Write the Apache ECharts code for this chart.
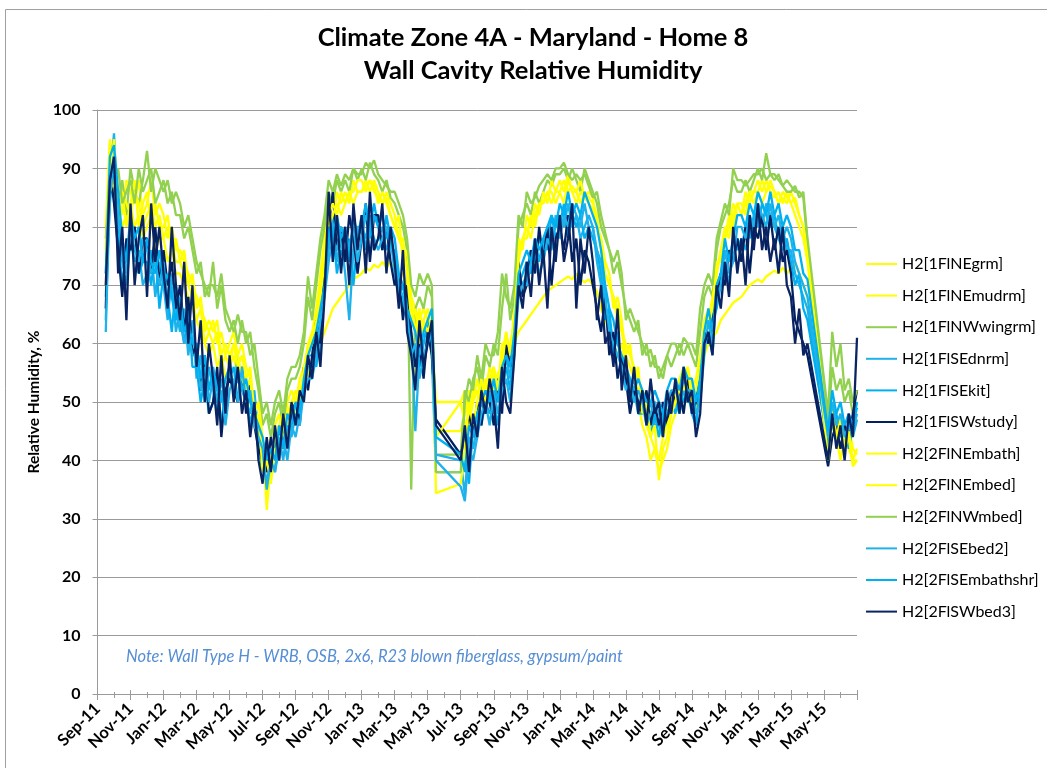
<!DOCTYPE html>
<html><head><meta charset="utf-8">
<script src="https://cdn.jsdelivr.net/npm/echarts@6/dist/echarts.min.js"></script>
<style>html,body{margin:0;padding:0;background:#fff}#c{width:1047px;height:768px}</style>
</head><body><div id="c"></div>
<script>
// x = months since 1-Sep-2011; one reading every quarter month starting mid-Sep-2011
const firstMonth = 0.5;
const stepMonth = 0.25;
const tickLabels = ['Sep-11','Nov-11','Jan-12','Mar-12','May-12','Jul-12','Sep-12','Nov-12','Jan-13','Mar-13','May-13','Jul-13','Sep-13','Nov-13','Jan-14','Mar-14','May-14','Jul-14','Sep-14','Nov-14','Jan-15','Mar-15','May-15'];
const seriesNames = ['H2[1FlNEgrm]','H2[1FlNEmudrm]','H2[1FlNWwingrm]','H2[1FlSEdnrm]','H2[1FlSEkit]','H2[1FlSWstudy]','H2[2FlNEmbath]','H2[2FlNEmbed]','H2[2FlNWmbed]','H2[2FlSEbed2]','H2[2FlSEmbathshr]','H2[2FlSWbed3]'];
const _ = null;

const rh1FlNEgrm = [76,94,
 88,84,80,82, 84,80,82,78, 80,82,76,78, 78,74,76,72, 72,70,68,66, 64,62,60,58, 60,56,58,54, 56,58,54,56, 52,50,46,44, 40,34,38,42, 44,42,46,48,
 48,50,52,55, 57,59,60,62, 64,66,67,68, 69,70,71,71.5, 72,73,72.5,73.5, 73,74,73,74, 73,72,72,70, 68,66,64,66, 64,62,50,_, _,_,_,_, 50,52,46,50, 52,50,53,54,
 52,55,56,57, 58,60,62,63, 64,65,66,67, 68,69,69.5,70, 70.5,71,71.5,71, 72,71,70.5,71, 70,69,66,64, 62,60,58,60, 56,54,52,50, 46,44,40,42, 38,40,42,46, 48,50,52,50,
 50,48,54,58, 60,61,62,64, 65,66,67,67.5, 68,69,70,70.5, 71,70.5,71.5,72, 72.5,72,73,72, 73,74,72,70, 68,_,_,_, _,42,46,44, 40,44,42,40, 40];

const rh1FlNEmudrm = [80,95,
 90,86,82,88, 86,84,88,82, 84,88,82,84, 82,78,80,76, 76,74,72,70, 68,66,64,62, 64,60,62,58, 60,62,58,60, 56,54,50,46, 42,38,44,46, 48,44,50,52,
 50,54,56,60, 62,66,72,78, 84,80,86,84, 86,84,88,86, 86,88,86,88, 86,84,86,84, 82,78,76,74, 66,64,62,64, 66,62,45,_, _,_,_,_, 45,48,52,50, 54,50,52,56,
 54,50,58,62, 58,66,76,78, 80,78,82,84, 84,86,84,86, 86,88,86,87, 86,84,86,85, 84,82,76,72, 70,68,66,62, 60,58,56,54, 52,50,48,46, 44,46,48,50, 52,54,56,54,
 54,50,56,64, 66,64,72,76, 80,78,82,84, 84,82,86,84, 86,88,86,87, 86,84,86,85, 84,82,80,78, 74,_,_,_, _,42,50,46, 48,44,46,42, 41];

const rh1FlNWwingrm = [78,88,
 86,84,88,82, 90,86,84,88, 93,86,90,88, 86,88,84,86, 84,80,82,78, 74,72,70,68, 74,66,70,64, 62,64,60,64, 60,62,56,52, 46,48,44,48, 50,46,52,54,
 54,56,60,68, 64,70,76,80, 86,84,88,86, 88,86,90,88, 90,88,91,89, 88,86,88,85, 84,82,80,76, 35,66,68,66, 70,68,41,_, _,_,_,_, 41,52,50,54, 56,52,58,56,
 60,58,66,72, 64,68,80,82, 84,82,86,84, 86,88,87,89, 89,90,88,90, 88,86,90,88, 86,84,80,78, 76,72,74,70, 66,64,62,64, 58,60,56,58, 54,56,58,56, 58,60,58,60,
 58,56,62,68, 70,68,76,80, 82,84,88,86, 86,88,86,88, 90,88,92.6,89, 88,89,87,88, 87,86,86,85, 77,_,_,_, _,46,56,52, 54,50,52,48, 50];

const rh1FlSEdnrm = [64,88,
 96,80,74,70, 78,74,76,70, 72,76,68,74, 70,64,72,66, 62,66,58,64, 54,58,50,56, 52,48,54,50, 56,52,58,52, 50,48,52,44, 40,36,42,38, 42,44,40,46,
 44,48,52,56, 56,60,58,70, 76,82,74,78, 72,64,76,80, 80,78,82,76, 78,80,76,78, 72,68,70,66, 62,45,58,56, 62,60,41,_, _,_,_,_, 40,34,44,42, 46,50,48,52,
 48,52,50,58, 54,62,72,70, 72,76,74,78, 76,80,78,80, 82,80,84,80, 82,78,80,82, 80,74,70,66, 64,60,62,56, 56,52,54,50, 50,48,50,46, 46,44,48,50, 50,48,52,50,
 50,46,52,60, 62,58,70,72, 74,70,78,76, 78,76,80,78, 82,80,84,82, 80,78,80,76, 76,72,70,68, 66,_,_,_, _,42,48,44, 46,42,47,45, 48];

const rh1FlSEkit = [68,84,
 92,78,70,76, 76,80,72,74, 74,70,76,66, 72,68,62,70, 64,60,66,56, 56,50,54,48, 50,54,46,52, 54,56,50,54, 52,46,50,42, 38,42,37,44, 40,46,43,48,
 46,50,54,58, 58,56,62,72, 78,80,72,76, 74,78,70,78, 82,76,80,84, 80,76,82,78, 74,70,66,68, 60,58,56,60, 64,58,38,_, _,_,_,_, 38,40,36,46, 48,46,50,48,
 50,46,54,56, 52,60,70,72, 74,72,78,74, 78,76,82,78, 80,84,78,82, 80,82,78,80, 78,76,72,64, 66,58,62,54, 54,50,52,48, 48,50,44,48, 44,48,46,50, 48,52,50,52,
 48,46,54,62, 60,64,66,70, 72,76,74,78, 76,80,78,82, 80,84,82,80, 82,78,76,78, 74,70,72,66, 64,_,_,_, _,43,46,48, 44,46,42,46, 50];

const rh1FlSWstudy = [66,90,
 84,76,68,78, 76,80,72,78, 78,72,80,70, 76,70,74,66, 70,62,68,58, 60,52,58,48, 50,56,44,52, 54,52,50,56, 48,54,46,42, 40,38,44,40, 46,42,44,48,
 50,46,56,52, 58,64,60,74, 80,86,76,80, 74,82,78,72, 78,84,74,82, 82,76,80,74, 70,72,64,70, 62,56,60,54, 62,58,47,_, _,_,_,_, 41,44,48,44, 50,46,52,50,
 46,54,48,60, 56,62,74,68, 70,76,72,80, 74,80,70,78, 80,76,82,74, 78,70,76,74, 70,66,62,68, 58,62,54,58, 54,48,52,50, 48,52,46,50, 46,50,46,52, 50,52,48,54,
 48,50,56,62, 60,64,68,72, 70,76,74,78, 74,80,72,80, 78,82,76,82, 76,80,74,76, 72,64,62,60, 58,_,_,_, _,39,44,46, 42,46,44,48, 52];

const rh2FlNEmbath = [70,90,
 95,84,86,80, 84,88,80,84, 86,80,84,80, 80,82,76,78, 74,76,70,72, 66,68,62,64, 62,64,58,60, 58,60,56,58, 54,56,48,50, 44,31.5,40,44, 46,48,44,50,
 52,50,56,58, 60,64,70,76, 82,84,82,86, 84,86,86,88, 88,86,88,87, 84,86,84,82, 80,82,74,76, 68,62,66,62, 64,66,34.4,_, _,_,_,_, 36,42,50,46, 50,54,50,54,
 56,52,60,60, 60,64,78,76, 82,80,84,82, 86,84,88,86, 88,86,89,86, 86,88,85,86, 85,80,78,74, 72,66,68,64, 58,60,54,56, 48,50,44,46, 36.6,42,44,48, 50,52,54,56,
 52,54,58,62, 64,66,74,74, 78,80,84,82, 82,84,86,86, 88,86,88,86, 85,86,84,86, 84,85,82,80, 76,_,_,_, _,40,48,44, 46,42,44,39, 40];

const rh2FlNEmbed = [74,92,
 90,82,86,84, 82,86,84,80, 82,84,80,82, 78,80,78,74, 74,72,70,68, 64,66,60,62, 60,62,56,58, 56,60,58,54, 52,54,46,48, 38,40,36,42, 42,46,48,50,
 50,52,54,58, 62,62,68,74, 80,82,84,82, 84,86,84,86, 86,87,88,86, 85,84,85,82, 80,78,78,72, 64,66,60,64, 62,64,44,_, _,_,_,_, 50,46,48,52, 52,50,54,52,
 56,52,56,62, 58,64,74,78, 78,82,80,84, 84,86,86,84, 86,84,88,86, 84,86,85,84, 83,80,78,72, 70,68,64,62, 58,56,54,52, 50,46,44,42, 40,44,46,48, 50,54,52,56,
 50,52,56,64, 64,68,72,76, 78,82,80,84, 82,86,84,86, 86,84,86,88, 86,84,85,84, 86,84,82,80, 75,_,_,_, _,44,50,44, 47,42,45,40, 42];

const rh2FlNWmbed = [72,86,
 88,90,84,86, 88,84,90,86, 88,90,84,86, 88,84,86,82, 82,78,80,76, 72,74,68,70, 70,68,72,66, 64,62,65,62, 62,58,60,54, 48,50,46,50, 52,48,54,56,
 56,58,62,71.5, 66,72,78,82, 88,86,89,87, 89,88,90,89, 89,91,90,91.4, 89,88,87,86, 86,84,82,78, 70,68,72,70, 72,70,38,_, _,_,_,_, 38,50,54,52, 58,54,60,58,
 58,62,72,68, 66,70,82,80, 86,84,85,87, 88,89,88,90, 90,91,89,88, 89,88,89,87, 85,86,82,79, 76,74,76,72, 64,66,64,62, 60,58,59,56, 56,54,58,60, 60,58,61,60,
 60,58,66,70, 72,70,78,81, 84,82,90,88, 88,87,88,89, 89,90,88,89, 89,88,87,86, 86,87,85,86, 78,_,_,_, _,48,62,56, 60,52,54,50, 52];

const rh2FlSEbed2 = [62,86,
 90,82,76,72, 80,76,74,78, 76,72,74,70, 74,66,70,62, 66,60,62,58, 58,52,56,50, 54,50,52,46, 52,54,50,56, 50,52,46,44, 42,35,40,38, 44,40,46,44,
 48,46,52,54, 54,58,64,68, 74,78,76,80, 78,76,80,74, 78,82,80,78, 76,78,80,76, 76,70,68,64, 58,60,54,58, 60,62,40,_, _,_,_,_, 35.5,33,42,40, 44,48,50,46,
 52,48,52,54, 50,58,68,70, 70,74,76,72, 74,78,76,82, 78,82,80,84, 82,80,84,80, 80,76,74,68, 62,60,58,56, 52,54,50,52, 50,46,48,50, 48,46,50,52, 52,50,54,52,
 52,48,50,58, 64,60,68,70, 76,72,74,80, 80,78,82,80, 84,82,80,84, 80,82,78,80, 78,74,72,70, 68,_,_,_, _,44,50,46, 48,44,46,44, 47];

const rh2FlSEmbathshr = [72,92,
 94,86,78,74, 82,78,80,74, 78,74,72,76, 70,72,68,64, 68,62,64,60, 60,54,58,52, 56,52,50,54, 56,52,54,52, 54,50,48,46, 44,40,42,40, 46,42,48,46,
 50,48,54,58, 60,62,66,70, 80,78,82,78, 80,74,82,78, 80,84,78,82, 80,82,78,80, 78,72,70,66, 64,62,58,62, 64,66,44,_, _,_,_,_, 41,38,46,44, 48,50,52,50,
 54,50,56,58, 56,62,72,74, 76,74,78,76, 78,80,82,80, 84,82,86,82, 84,82,86,84, 82,80,76,70, 66,64,60,58, 56,54,52,54, 52,50,50,52, 50,48,52,54, 54,52,56,54,
 54,50,54,62, 66,62,70,72, 78,74,78,82, 82,80,84,82, 86,84,82,86, 82,84,80,82, 80,76,76,72, 71,_,_,_, _,45,52,48, 50,46,48,46, 49];

const rh2FlSWbed3 = [70,88,
 92,72,80,64, 84,70,78,82, 68,84,74,80, 72,66,80,70, 64,74,60,70, 56,64,50,60, 54,46,58,48, 58,50,56,48, 52,44,50,40, 36,44,38,46, 40,48,42,50,
 46,52,50,58, 54,62,56,68, 86,74,82,72, 80,70,84,76, 82,72,86,76, 78,84,72,80, 74,66,76,62, 58,52,64,56, 60,64,46,_, _,_,_,_, 40,46,38,48, 44,52,48,54,
 50,42,56,50, 48,58,70,66, 74,68,78,70, 76,66,80,74, 82,74,78,84, 66,78,72,80, 74,64,70,60, 62,56,66,52, 58,50,56,48, 52,46,54,48, 50,44,52,48, 54,48,56,50,
 52,44,48,60, 62,58,70,66, 74,68,80,72, 78,70,82,76, 84,76,80,74, 78,72,80,70, 68,60,66,58, 60,_,_,_, _,40,48,42, 46,40,48,44, 61];

const seriesValues = [rh1FlNEgrm, rh1FlNEmudrm, rh1FlNWwingrm, rh1FlSEdnrm, rh1FlSEkit, rh1FlSWstudy, rh2FlNEmbath, rh2FlNEmbed, rh2FlNWmbed, rh2FlSEbed2, rh2FlSEmbathshr, rh2FlSWbed3];
const seriesColors = ['#FFFF00','#FFFF00','#92D050','#1EB1EA','#00B0F0','#002060','#FFFF00','#FFFF00','#92D050','#1EB1EA','#00B0F0','#0A2463'];

const FONT = 'Lato, "Open Sans", sans-serif';
const chart = echarts.init(document.getElementById('c'), null, {renderer:'canvas'});

const series = seriesValues.map((vals, i) => ({
  name: seriesNames[i],
  type: 'line',
  xAxisIndex: 0,
  yAxisIndex: 0,
  data: vals.map((v, j) => [firstMonth + j * stepMonth, v]),
  showSymbol: false,
  symbol: 'none',
  connectNulls: true,
  silent: true,
  lineStyle: { width: 2.3, color: seriesColors[i] },
  itemStyle: { color: seriesColors[i] },
  emphasis: { disabled: true }
}));

const axisGray = '#9A9A9A';
const option = {
  animation: false,
  backgroundColor: '#ffffff',
  grid: { left: 97.5, right: 190, top: 110, bottom: 74 },
  legend: {
    orient: 'vertical', left: 861, top: 251,
    itemWidth: 31, itemHeight: 2, itemGap: 15.6, icon: 'rect',
    textStyle: { fontFamily: FONT, fontSize: 16, color: '#000', lineHeight: 16 },
    data: seriesNames, selectedMode: false
  },
  xAxis: [{
    type: 'value', min: 0, max: 46, interval: 2, position: 'bottom',
    axisLine: { show: true, lineStyle: { color: axisGray, width: 1 } },
    axisTick: { show: true, length: 6, lineStyle: { color: axisGray } },
    minorTick: { show: true, splitNumber: 2, length: 4, lineStyle: { color: axisGray } },
    splitLine: { show: false },
    axisLabel: {
      rotate: 45, margin: 12, fontFamily: FONT, fontWeight: 'bold', fontSize: 16.5, color: '#000',
      showMinLabel: true, showMaxLabel: true,
      formatter: v => { const k = v / 2; return (Number.isInteger(k) && k < tickLabels.length) ? tickLabels[k] : ''; }
    }
  }, {
    type: 'value', min: 0, max: 46, interval: 2, position: 'bottom',
    axisLine: { show: false },
    axisTick: { show: true, inside: true, length: 4, lineStyle: { color: axisGray } },
    minorTick: { show: true, splitNumber: 2, length: 2, lineStyle: { color: axisGray } },
    splitLine: { show: false },
    axisLabel: { show: false }
  }],
  yAxis: {
    type: 'value', min: 0, max: 100, interval: 10,
    axisLine: { show: true, lineStyle: { color: axisGray } },
    axisTick: { show: true, length: 5, lineStyle: { color: axisGray } },
    splitLine: { show: true, lineStyle: { color: axisGray, width: 1 } },
    axisLabel: { margin: 17, fontFamily: FONT, fontWeight: 'bold', fontSize: 16, color: '#000' },
    name: 'Relative Humidity, %', nameLocation: 'middle', nameGap: 49, nameRotate: 90,
    nameTextStyle: { fontFamily: FONT, fontWeight: 'bold', fontSize: 15.5, color: '#000' }
  },
  graphic: [
    { type: 'line', shape: { x1: 5.5, y1: 9.5, x2: 1047, y2: 9.5 }, style: { stroke: '#A0A0A0', lineWidth: 1 }, silent: true },
    { type: 'line', shape: { x1: 5.5, y1: 9.5, x2: 5.5, y2: 768 }, style: { stroke: '#A0A0A0', lineWidth: 1 }, silent: true },
    { type: 'text', x: 533, y: 38, silent: true, style: { text: 'Climate Zone 4A - Maryland - Home 8', fontFamily: FONT, fontWeight: 'bold', fontSize: 25.5, fill: '#000', textAlign: 'center', textVerticalAlign: 'middle' } },
    { type: 'text', x: 533, y: 70.5, silent: true, style: { text: 'Wall Cavity Relative Humidity', fontFamily: FONT, fontWeight: 'bold', fontSize: 25.5, fill: '#000', textAlign: 'center', textVerticalAlign: 'middle' } },
    { type: 'text', x: 126, y: 657, silent: true, style: { text: 'Note: Wall Type H - WRB, OSB, 2x6, R23 blown fiberglass, gypsum/paint', fontFamily: FONT, fontStyle: 'italic', fontSize: 16.5, fill: '#558ED5', textAlign: 'left', textVerticalAlign: 'middle' } }
  ],
  series: series
};
chart.setOption(option);
</script>
</body></html>
